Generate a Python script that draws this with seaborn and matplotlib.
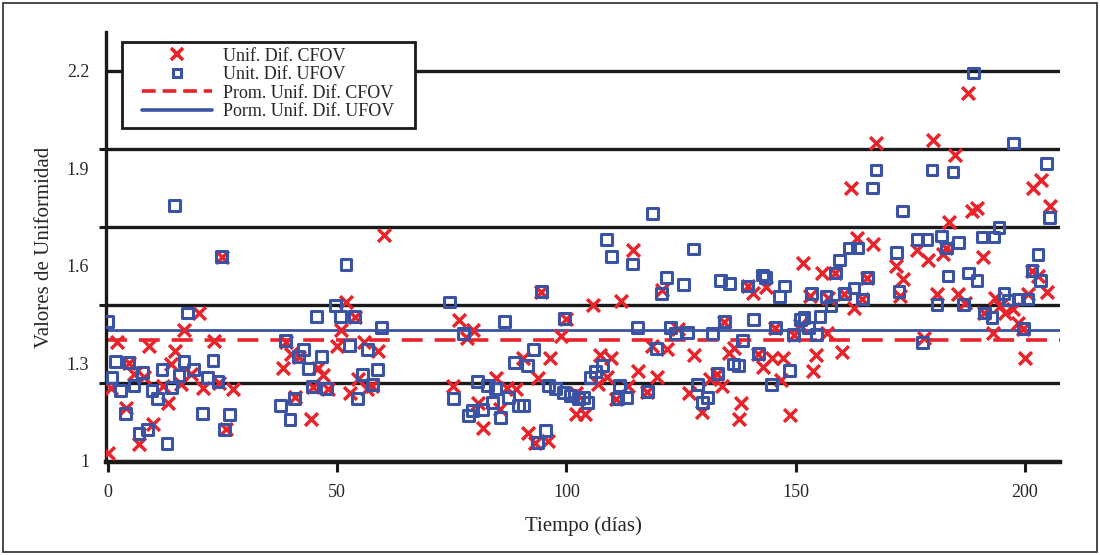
import matplotlib
matplotlib.use("Agg")
import matplotlib.pyplot as plt
from matplotlib.patches import Rectangle
from matplotlib.lines import Line2D
from matplotlib.legend_handler import HandlerLine2D
import seaborn as sns
import pandas as pd

# Daily differential uniformity, central field of view (CFOV)
cfov_day = [0.0, 0.7, 2.0, 3.9, 4.6, 5.7, 6.8, 7.8, 8.9, 9.8, 12.0, 13.1, 13.7, 14.6, 15.9,
            16.6, 18.1, 19.8, 20.7, 23.1, 24.2, 24.8, 25.7, 27.2, 38.1, 38.8, 39.9, 40.7,
            41.6, 44.2, 44.7, 45.8, 46.8, 47.9, 49.9, 50.8, 51.9, 52.9, 53.8, 54.5, 55.8,
            56.6, 57.7, 58.8, 60.1, 75.2, 76.5, 78.4, 79.7, 80.6, 81.9, 84.7, 85.6, 87.1,
            88.9, 90.6, 91.7, 93.2, 93.7, 94.5, 95.9, 96.5, 98.7, 99.8, 102.0, 102.0, 104.1,
            105.7, 106.8, 107.4, 108.9, 109.8, 110.9, 111.8, 113.5, 114.4, 115.7, 117.6,
            118.7, 119.8, 120.9, 122.0, 124.4, 126.8, 127.7, 129.6, 131.2, 132.9, 134.0,
            134.4, 135.5, 136.6, 137.7, 138.1, 139.6, 140.7, 141.8, 142.9, 143.4, 144.9,
            145.5, 146.8, 147.3, 148.8, 149.5, 151.0, 151.6, 153.2, 153.8, 154.5, 155.8,
            156.7, 157.1, 158.6, 160.1, 160.6, 162.1, 162.7, 163.4, 164.5, 165.6, 166.9,
            167.5, 171.9, 172.8, 173.4, 176.5, 178.0, 178.9, 180.0, 180.8, 182.1, 182.8,
            183.4, 184.7, 185.4, 186.9, 187.6, 188.4, 189.5, 190.8, 191.1, 193.0, 193.5,
            194.5, 195.6, 197.4, 198.5, 199.6, 200.0, 200.6, 201.5, 201.7, 202.8, 203.5,
            204.8, 205.4]
cfov_val = [1.025, 1.225, 1.366, 1.163, 1.302, 1.268, 1.052, 1.258, 1.354, 1.114, 1.231,
            1.178, 1.298, 1.338, 1.237, 1.403, 1.268, 1.455, 1.225, 1.369, 1.240, 1.628,
            1.098, 1.222, 1.286, 1.366, 1.329, 1.197, 1.320, 1.129, 1.228, 1.286, 1.265,
            1.222, 1.354, 1.403, 1.489, 1.209, 1.443, 1.252, 1.366, 1.222, 1.231, 1.338,
            1.695, 1.231, 1.434, 1.378, 1.403, 1.178, 1.102, 1.255, 1.160, 1.225, 1.222,
            1.317, 1.086, 1.055, 1.255, 1.520, 1.062, 1.317, 1.385, 1.437, 1.209, 1.145,
            1.145, 1.480, 1.237, 1.326, 1.258, 1.317, 1.191, 1.492, 1.231, 1.649, 1.277,
            1.212, 1.354, 1.258, 1.526, 1.345, 1.406, 1.209, 1.326, 1.151, 1.252, 1.268,
            1.231, 1.428, 1.332, 1.348, 1.129, 1.178, 1.538, 1.517, 1.329, 1.289, 1.535,
            1.317, 1.409, 1.249, 1.317, 1.142, 1.388, 1.418, 1.609, 1.508, 1.277, 1.326,
            1.578, 1.394, 1.502, 1.578, 1.335, 1.514, 1.840, 1.471, 1.686, 1.498, 1.563,
            1.668, 1.978, 1.600, 1.508, 1.560, 1.649, 1.378, 1.618, 1.988, 1.514, 1.637,
            1.655, 1.735, 1.942, 1.514, 1.486, 2.132, 1.769, 1.778, 1.628, 1.455, 1.394,
            1.502, 1.477, 1.455, 1.468, 1.425, 1.406, 1.317, 1.514, 1.585, 1.840, 1.569,
            1.865, 1.520, 1.785]

# Daily differential uniformity, useful field of view (UFOV)
ufov_day = [0.0, 0.9, 1.7, 2.8, 3.9, 4.6, 5.7, 6.8, 7.6, 8.7, 9.6, 10.9, 11.8, 12.9, 13.9,
            14.6, 15.5, 16.6, 17.4, 18.7, 20.7, 21.8, 22.9, 24.0, 24.8, 25.5, 26.6, 37.7,
            38.8, 39.7, 40.7, 41.6, 42.7, 43.8, 44.7, 45.5, 46.6, 47.7, 49.7, 50.8, 51.9,
            52.7, 53.8, 54.5, 55.6, 56.6, 57.7, 58.8, 59.7, 74.5, 75.4, 77.6, 78.6, 79.5,
            80.6, 81.7, 82.8, 83.9, 84.5, 85.6, 86.5, 87.4, 88.7, 89.5, 90.6, 91.5, 92.8,
            93.7, 94.5, 95.4, 96.1, 97.6, 99.3, 99.6, 100.9, 102.6, 103.7, 104.6, 105.2,
            106.3, 107.8, 108.7, 109.8, 111.1, 111.5, 113.1, 114.4, 115.5, 117.6, 118.7,
            119.6, 120.7, 121.8, 122.7, 123.7, 125.5, 126.4, 127.7, 128.5, 129.6, 130.7,
            131.8, 132.9, 133.5, 134.4, 135.5, 136.4, 137.5, 138.3, 139.4, 140.7, 141.8,
            142.7, 143.4, 144.7, 145.5, 146.4, 147.5, 148.6, 149.5, 151.0, 151.8, 152.7,
            153.4, 154.5, 155.3, 156.6, 157.7, 158.6, 159.5, 160.6, 161.7, 162.7, 163.4,
            164.5, 165.6, 166.7, 167.5, 171.9, 172.5, 173.2, 176.5, 177.6, 178.6, 179.7,
            180.8, 181.7, 182.8, 183.2, 184.3, 185.4, 186.5, 187.6, 188.7, 189.5, 190.6,
            191.1, 192.8, 193.2, 194.3, 195.4, 196.3, 197.4, 198.5, 199.6, 200.6, 201.5,
            202.8, 203.3, 204.6, 205.4]
ufov_val = [1.428, 1.255, 1.305, 1.215, 1.145, 1.302, 1.231, 1.083, 1.271, 1.095, 1.215,
            1.191, 1.280, 1.052, 1.225, 1.785, 1.262, 1.305, 1.455, 1.280, 1.145, 1.255,
            1.308, 1.243, 1.628, 1.095, 1.142, 1.169, 1.369, 1.126, 1.191, 1.320, 1.342,
            1.283, 1.228, 1.443, 1.320, 1.222, 1.477, 1.443, 1.603, 1.354, 1.443, 1.191,
            1.265, 1.342, 1.234, 1.280, 1.409, 1.489, 1.191, 1.391, 1.138, 1.154, 1.243,
            1.157, 1.231, 1.178, 1.222, 1.132, 1.428, 1.194, 1.302, 1.169, 1.169, 1.292,
            1.342, 1.055, 1.520, 1.092, 1.231, 1.222, 1.209, 1.437, 1.200, 1.191, 1.194,
            1.178, 1.255, 1.274, 1.292, 1.680, 1.628, 1.191, 1.231, 1.194, 1.606, 1.409,
            1.212, 1.760, 1.345, 1.514, 1.563, 1.409, 1.391, 1.542, 1.394, 1.652, 1.234,
            1.178, 1.194, 1.391, 1.268, 1.554, 1.428, 1.545, 1.298, 1.292, 1.369, 1.538,
            1.434, 1.329, 1.572, 1.563, 1.234, 1.409, 1.505, 1.538, 1.277, 1.388, 1.434,
            1.440, 1.409, 1.514, 1.388, 1.443, 1.505, 1.477, 1.578, 1.618, 1.514, 1.655,
            1.532, 1.655, 1.498, 1.563, 1.840, 1.895, 1.640, 1.520, 1.769, 1.680, 1.363,
            1.680, 1.895, 1.480, 1.692, 1.655, 1.569, 1.889, 1.671, 1.480, 1.578, 2.194,
            1.554, 1.689, 1.455, 1.440, 1.689, 1.717, 1.514, 1.495, 1.978, 1.498, 1.406,
            1.498, 1.585, 1.634, 1.554, 1.914, 1.748]

# Averages of each series
cfov_mean = 1.372
ufov_mean = 1.403

# Horizontal reference lines and labelled y values
grid_levels = [1.24, 1.48, 1.72, 1.96, 2.2]
y_tick_values = [1.0, 1.3, 1.6, 1.9, 2.2]
y_tick_labels = ["1", "1.3", "1.6", "1.9", "2.2"]
x_tick_values = [0, 50, 100, 150, 200]

series_labels = ["Unif. Dif. CFOV", "Unit. Dif. UFOV",
                 "Prom. Unif. Dif. CFOV", "Porm. Unif. Dif. UFOV"]

RED = "#e8232a"
BLUE = "#3a53a4"
INK = "#1a1a1a"
MEAN_DASH = (5.8, 3.3)

sns.set_theme(style="white")
plt.rcParams["font.family"] = ["Liberation Serif", "DejaVu Serif"]

cfov = pd.DataFrame({"dia": cfov_day, "valor": cfov_val})
ufov = pd.DataFrame({"dia": ufov_day, "valor": ufov_val})

fig = plt.figure(figsize=(11, 5.55), dpi=100)
ax = fig.add_axes([0.0964, 0.1676, 0.8672, 0.7747])

for lvl in grid_levels:
    ax.axhline(lvl, color=INK, lw=2.4, zorder=1)

ax.axhline(ufov_mean, color=BLUE, lw=2.0, zorder=2)
ax.axhline(cfov_mean, color=RED, lw=2.6, dashes=MEAN_DASH, zorder=2)

sns.scatterplot(data=cfov, x="dia", y="valor", marker="x", color=RED, s=85,
                linewidth=2.5, ax=ax, zorder=3, legend=False)
sns.scatterplot(data=ufov, x="dia", y="valor", marker="s", facecolor="none",
                edgecolor=BLUE, s=60, linewidth=2.2, ax=ax, zorder=4, legend=False)

ax.set_xlim(-0.4, 207.6)
ax.set_ylim(0.996, 2.32)

ax.set_xticks(x_tick_values)
ax.set_xticklabels([str(v) for v in x_tick_values], fontsize=13)
ax.tick_params(axis="x", direction="out", length=7, width=2.2, color=INK,
               pad=9, bottom=True)

ax.set_yticks(y_tick_values)
ax.set_yticklabels(y_tick_labels, fontsize=13)
ax.set_yticks(grid_levels, minor=True)
ax.tick_params(axis="y", which="major", length=0, pad=12, left=True)
ax.tick_params(axis="y", which="minor", direction="out", length=5, width=2.2,
               color=INK, left=True)

for side in ("top", "right"):
    ax.spines[side].set_visible(False)
for side in ("left", "bottom"):
    ax.spines[side].set_color(INK)
ax.spines["left"].set_linewidth(2.4)
ax.spines["bottom"].set_linewidth(3.2)

ax.set_xlabel("Tiempo (días)", fontsize=15, labelpad=11)
ax.set_ylabel("Valores de Uniformidad", fontsize=15, labelpad=9)

# Legend box: white panel with a square black border, wider than its text
ax.add_patch(Rectangle((0.0168, 0.7767), 0.3071, 0.2000, transform=ax.transAxes,
                       facecolor="white", edgecolor=INK, lw=2.0, zorder=5,
                       clip_on=False))

handles = [
    Line2D([], [], ls="none", marker="x", color=RED, markersize=9, mew=2.6),
    Line2D([], [], ls="none", marker="s", markerfacecolor="white",
           markeredgecolor=BLUE, markersize=6, mew=2.2),
    Line2D([], [], color=RED, lw=2.6, dashes=(3.8, 1.9)),
    Line2D([], [], color=BLUE, lw=2.6),
]
leg = ax.legend(handles, series_labels, loc="upper left",
                bbox_to_anchor=(0.0165, 0.978), borderaxespad=0, fontsize=13,
                handlelength=4.65, handletextpad=0.6, labelspacing=0.08,
                borderpad=0.35, frameon=False,
                handler_map={Line2D: HandlerLine2D(xpad=0.78)})
leg.set_zorder(6)

fig.patches.append(Rectangle((0.003, 0.005), 0.994, 0.99, transform=fig.transFigure,
                             fill=False, edgecolor="#3a3a3a", lw=1.3))

fig.savefig("out.png", dpi=100)
